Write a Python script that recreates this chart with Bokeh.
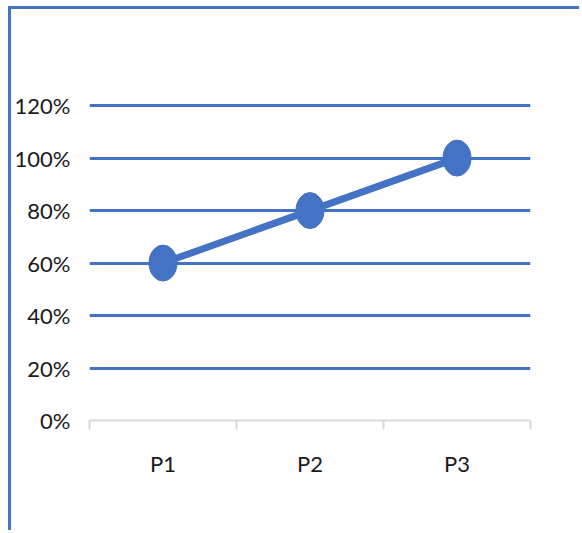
from bokeh.plotting import figure
from bokeh.models import Range1d, FixedTicker, ColumnDataSource
from bokeh.embed import file_html
from bokeh.resources import INLINE

categories = ["P1", "P2", "P3"]
values = [0.60, 0.80, 1.00]
y_ticks = [0.0, 0.2, 0.4, 0.6, 0.8, 1.0, 1.2]
y_tick_labels = ["0%", "20%", "40%", "60%", "80%", "100%", "120%"]

BLUE = "#4472C4"
FONT = "Lato"

xs = [i + 0.5 for i in range(len(categories))]
src = ColumnDataSource(dict(x=xs, y=values, cat=categories))

p = figure(width=571, height=524, output_backend="svg", toolbar_location=None,
           x_range=Range1d(0, len(categories)), y_range=Range1d(0, 1.25),
           min_border_left=77, min_border_right=52, min_border_top=83,
           min_border_bottom=113)
p.styles = {"margin-left": "8px", "margin-top": "6px",
            "border-top": f"3px solid {BLUE}", "border-left": f"3px solid {BLUE}"}
p.outline_line_color = None
p.background_fill_color = "white"
p.border_fill_color = "white"

# y axis
p.yaxis.ticker = FixedTicker(ticks=y_ticks)
p.yaxis.major_label_overrides = {t: l for t, l in zip(y_ticks, y_tick_labels)}
p.yaxis.axis_line_color = None
p.yaxis.major_tick_line_color = None
p.yaxis.minor_tick_line_color = None
p.yaxis.major_tick_out = 0
p.yaxis.major_tick_in = 0
p.yaxis.major_label_standoff = 19
p.yaxis.major_label_text_font = FONT
p.yaxis.major_label_text_font_size = "22px"
p.yaxis.major_label_text_color = "#1a1a1a"

# x axis
p.xaxis.ticker = FixedTicker(ticks=xs, minor_ticks=list(range(len(categories) + 1)))
p.xaxis.major_label_overrides = {x: c for x, c in zip(xs, categories)}
p.xaxis.axis_line_color = "#D9D9D9"
p.xaxis.axis_line_width = 2
p.xaxis.major_tick_line_color = None
p.xaxis.major_tick_out = 0
p.xaxis.major_tick_in = 0
p.xaxis.minor_tick_line_color = "#D9D9D9"
p.xaxis.minor_tick_line_width = 2
p.xaxis.minor_tick_out = 9
p.xaxis.minor_tick_in = 0
p.xaxis.major_label_standoff = 20
p.xaxis.major_label_text_font = FONT
p.xaxis.major_label_text_font_size = "22px"
p.xaxis.major_label_text_color = "#1a1a1a"

# grid
p.xgrid.grid_line_color = None
p.ygrid.ticker = FixedTicker(ticks=y_ticks[1:])
p.ygrid.grid_line_color = BLUE
p.ygrid.grid_line_width = 3

p.line("x", "y", source=src, line_color=BLUE, line_width=7)
p.ellipse("x", "y", source=src, width=28, height=36, width_units="screen",
          height_units="screen", fill_color=BLUE, line_color=BLUE)

open("out.html", "w").write(file_html(p, INLINE))
